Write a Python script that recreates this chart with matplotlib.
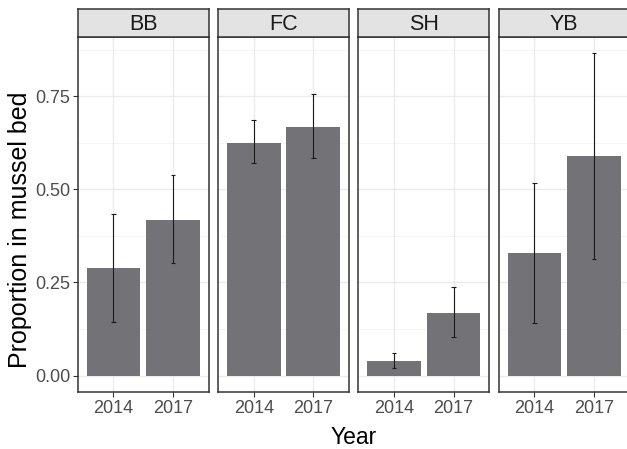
import matplotlib
matplotlib.use("Agg")
import matplotlib.pyplot as plt
from matplotlib.ticker import FixedLocator

plt.rcParams['font.family'] = ['Liberation Sans', 'DejaVu Sans']

# Data: proportion of individuals found in mussel bed, by site and year
sites = ["BB", "FC", "SH", "YB"]
years = ["2014", "2017"]
proportion = {
    "BB": [0.288, 0.419],
    "FC": [0.625, 0.668],
    "SH": [0.040, 0.169],
    "YB": [0.328, 0.589],
}
lower = {
    "BB": [0.143, 0.301],
    "FC": [0.570, 0.585],
    "SH": [0.020, 0.103],
    "YB": [0.142, 0.313],
}
upper = {
    "BB": [0.433, 0.539],
    "FC": [0.685, 0.757],
    "SH": [0.061, 0.238],
    "YB": [0.516, 0.865],
}
y_ticks = [0.00, 0.25, 0.50, 0.75]
y_tick_labels = ["0.00", "0.25", "0.50", "0.75"]

W, H = 627, 449
fig = plt.figure(figsize=(W / 100, H / 100), dpi=100)

bar_color = "#737277"
grid_major = "#EBEBEB"
grid_minor = "#F4F4F4"
border = "#333333"

panel_left = [77.7, 218.0, 358.3, 498.7]
panel_w = 131.0
panel_top, panel_bottom = 37.3, 391.7
strip_top = 9.0

ymax = max(max(v) for v in upper.values())
ymin = 0.0
pad = 0.05 * (ymax - ymin)
ylim = (ymin - pad, ymax + pad)

xpos = [1, 2]
bar_w = 0.9
cap_w = 0.08


def frac(x0, y0, w, h):
    return [x0 / W, 1 - (y0 + h) / H, w / W, h / H]


for i, site in enumerate(sites):
    ax = fig.add_axes(frac(panel_left[i], panel_top, panel_w, panel_bottom - panel_top))
    ax.set_xlim(0.4, 2.6)
    ax.set_ylim(*ylim)

    # grid lines
    for yv in y_ticks:
        ax.axhline(yv, color=grid_major, lw=1.0, zorder=0)
    for yv in [0.125, 0.375, 0.625, 0.875]:
        ax.axhline(yv, color=grid_minor, lw=0.6, zorder=0)
    for xv in xpos:
        ax.axvline(xv, color=grid_major, lw=1.0, zorder=0)

    ax.bar(xpos, proportion[site], width=bar_w, color=bar_color, zorder=2)

    # error bars with caps
    for xv, lo, hi in zip(xpos, lower[site], upper[site]):
        ax.vlines(xv, lo, hi, color="#1A1A1A", lw=0.8, zorder=3)
        ax.hlines([lo, hi], xv - cap_w / 2, xv + cap_w / 2, color="#1A1A1A", lw=0.8, zorder=3)

    ax.set_xticks(xpos)
    ax.set_xticklabels(years, fontsize=13, color="#4D4D4D")
    ax.yaxis.set_major_locator(FixedLocator(y_ticks))
    if i == 0:
        ax.set_yticklabels(y_tick_labels, fontsize=13, color="#4D4D4D")
        ax.tick_params(axis="y", length=3.5, width=0.8, color=border, pad=2)
    else:
        ax.tick_params(axis="y", length=0, labelleft=False)
    ax.tick_params(axis="x", length=3.5, width=0.8, color=border, pad=2.5)
    for sp in ax.spines.values():
        sp.set_color(border)
        sp.set_linewidth(1.1)
        sp.set_zorder(5)

    # facet strip
    sax = fig.add_axes(frac(panel_left[i], strip_top, panel_w, panel_top - strip_top))
    sax.set_facecolor("#E3E3E3")
    sax.set_xticks([])
    sax.set_yticks([])
    for sp in sax.spines.values():
        sp.set_color(border)
        sp.set_linewidth(1.1)
    sax.text(0.5, 0.45, site, ha="center", va="center", fontsize=15.5,
             color="#1A1A1A", transform=sax.transAxes)

fig.text(353.7 / W, 1 - 437 / H, "Year", ha="center", va="center", fontsize=16.5)
fig.text(20 / W, 1 - 229.5 / H, "Proportion in mussel bed", ha="center", va="center",
         rotation=90, fontsize=18)

fig.savefig("out.png", dpi=100)
